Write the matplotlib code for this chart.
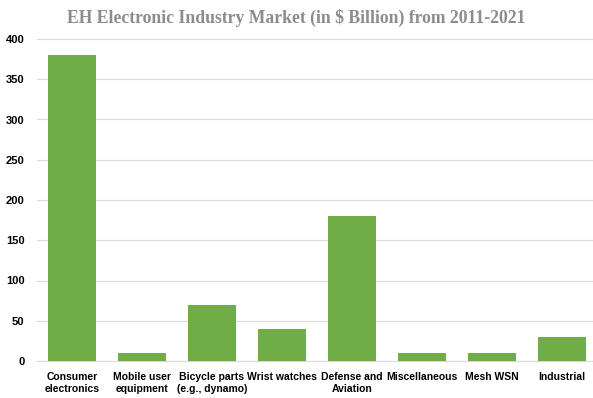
import matplotlib
matplotlib.use("Agg")
import matplotlib.pyplot as plt
import numpy as np

categories = ["Consumer\nelectronics", "Mobile user\nequipment", "Bicycle parts\n(e.g., dynamo)",
              "Wrist watches", "Defense and\nAviation", "Miscellaneous", "Mesh WSN", "Industrial"]
market = [380, 10, 70, 40, 180, 10, 10, 30]
yticks = [0, 50, 100, 150, 200, 250, 300, 350, 400]

fig = plt.figure(figsize=(5.93, 3.98), dpi=100)
ax = fig.add_axes([37 / 593, 37 / 398, 560 / 593, 322 / 398])

x = np.arange(len(categories))
ax.bar(x, market, width=0.68, color="#70AD47", zorder=3)

ax.set_xlim(-0.5, len(categories) - 0.5)
ax.set_ylim(0, 400)
ax.set_yticks(yticks)
ax.set_xticks(x)
ax.set_xticklabels(categories, fontsize=7.5, fontweight="bold",
                   family=["Liberation Sans Narrow", "Liberation Sans", "DejaVu Sans"])
for lab in ax.get_yticklabels():
    lab.set_fontsize(8)
    lab.set_fontweight("bold")
    lab.set_family(["Liberation Sans Narrow", "Liberation Sans", "DejaVu Sans"])

ax.grid(axis="y", color="#d9d9d9", linewidth=0.8, zorder=0)
for side in ["top", "right", "left"]:
    ax.spines[side].set_visible(False)
ax.spines["bottom"].set_color("#d9d9d9")
ax.tick_params(axis="y", length=0, pad=9)
ax.tick_params(axis="x", length=0, pad=8)

fig.text(0.5, 0.955, "EH Electronic Industry Market (in $ Billion) from 2011-2021",
         ha="center", va="center", fontsize=12.7, fontweight="bold",
         family="Liberation Serif", color="#8c8c8c")

fig.savefig("out.png", dpi=100)
